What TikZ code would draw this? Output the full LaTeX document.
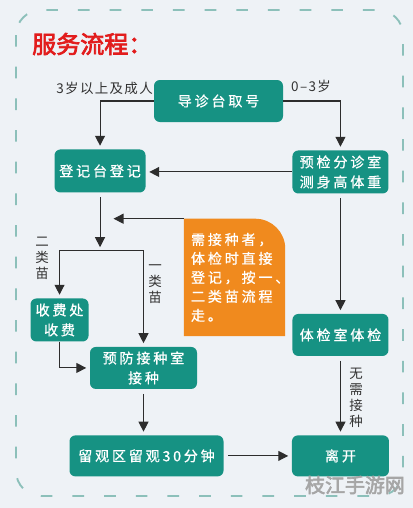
\documentclass[tikz,border=0pt]{standalone}
\usepackage{fontspec}
\setmainfont{Noto Sans CJK SC}[AutoFakeBold=3]
\newfontfamily\spacedfont{Noto Sans CJK SC}[LetterSpace=20, FakeBold=0.8]
\newfontfamily\tagfont{Noto Sans CJK SC}[LetterSpace=10]
\usepackage{xcolor}
\usepackage{tikz}
\usetikzlibrary{positioning, calc, arrows.meta, backgrounds}

\definecolor{boxteal}{RGB}{22,146,131}
\definecolor{noteorange}{RGB}{240,138,30}
\definecolor{pagebg}{RGB}{238,242,246}
\definecolor{framegreen}{RGB}{140,192,186}
\definecolor{titlered}{RGB}{226,28,28}
\definecolor{linegray}{RGB}{45,45,45}
\definecolor{taggray}{RGB}{50,50,50}

\begin{document}
\begin{tikzpicture}[node distance=0.8cm, >={Triangle[length=8.5pt,width=8.5pt]}]
        \tikzstyle{stage} = [rectangle, rounded corners=5pt, text centered, align=center, fill=boxteal, text=white, inner sep=0pt, font=\fontsize{12}{17}\spacedfont]
        \tikzstyle{notebox} = [rectangle, text=white, align=left, text width=2.61cm, inner xsep=0.21cm, inner ysep=0pt, font=\fontsize{12}{16.2}\spacedfont]
        \tikzstyle{tag} = [text=taggray, align=center, inner sep=0pt, font=\fontsize{11.5}{13.6}\tagfont]
        \tikzstyle{arrow} = [draw=linegray, line width=0.9pt, ->, shorten >=3pt]
        \tikzstyle{gap} = [shorten <=4pt]

        \useasboundingbox (0,0) rectangle (12.39,-15.24);
        \begin{scope}[on background layer]
            \fill[pagebg] (0,0) rectangle (12.39,-15.24);
            \draw[framegreen, line width=1.6pt, dash pattern=on 0.35cm off 0.6cm, rounded corners=0.75cm] (0.48,-0.3) rectangle (12.09,-14.88);
        \end{scope}

        % Title
        \node (title) [anchor=west, inner sep=0pt, text=titlered, font=\fontsize{20.5}{24}\selectfont\bfseries] at (0.96,-1.32) {服务流程：};

        % Stages
        \node (guide) [stage, minimum width=3.87cm, minimum height=1.26cm] at (6.555,-3.03) {导诊台取号};
        \node (reg) [stage, minimum width=2.73cm, minimum height=1.29cm, below left=0.81cm and 0.24cm of guide] {登记台登记};
        \node (pre) [stage, minimum width=2.88cm, minimum height=1.29cm, below right=0.84cm and 0.27cm of guide] {预检分诊室\\测身高体重};
        \node (exam) [stage, minimum width=2.88cm, minimum height=1.26cm, below=3.6cm of pre] {体检室体检};
        \node (leave) [stage, minimum width=2.91cm, minimum height=1.23cm, below=2.37cm of exam] {离开};
        \node (obs) [stage, minimum width=4.62cm, minimum height=1.23cm, left=2.04cm of leave] {留观区留观30分钟};
        \node (vacc) [stage, minimum width=3.21cm, minimum height=1.26cm, above=1.38cm of obs, xshift=-0.09cm] {预防接种室\\接种};
        \node (fee) [stage, minimum width=1.74cm, minimum height=1.29cm, above left=0.15cm and 0.03cm of vacc] {收费处\\收费};

        % Note
        \node (note) [notebox, minimum height=3.51cm, below right=0.78cm and 1.14cm of reg] {需接种者，\\体检时直接\\登记，按一、\\二类苗流程\\走。};
        \begin{scope}[on background layer]
            \fill[noteorange] (note.south west) -- (note.north west) -- ($(note.north east)+(-0.9,0)$) arc[start angle=90, end angle=0, radius=0.9cm] -- (note.south east) -- cycle;
        \end{scope}

        % Labels
        \node (adult) [tag, anchor=east] at (4.59,-2.64) {3岁以上及成人};
        \node (infant) [tag, anchor=west] at (8.73,-2.58) {0–3岁};
        \node (second) [tag] at (1.26,-7.74) {二\\类\\苗};
        \node (first) [tag] at (4.65,-8.52) {一\\类\\苗};
        \node (noneed) [tag] at (10.68,-11.94) {无\\需\\接\\种};

        % Watermark
        \node (mark) [inner sep=0pt, text=black!35, font=\fontsize{17}{20}\selectfont\bfseries] at (10.65,-14.55) {枝江手游网};

        % Arrows
        \coordinate (split) at ($(reg.south)+(0,-1.74)$);
        \coordinate (hit) at ($(reg.south |- note.north west)+(0.3,0)$);
        \draw [arrow] (guide.west) -| (reg.north);
        \draw [arrow] (guide.east) -| (pre.north);
        \draw [arrow] (pre.west) -- (pre.west -| reg.east);
        \draw [arrow, gap] (reg.south) -- (split);
        \draw [arrow] (split) -| (fee.north);
        \draw [arrow] (split) -| (vacc.north);
        \draw [arrow] (note.north west) -- (hit);
        \draw [arrow] (fee.south) |- (vacc.west);
        \draw [arrow, gap] (vacc.south) -- (vacc.south |- obs.north);
        \draw [arrow, gap] (obs) -- (leave);
        \draw [arrow, gap] (pre) -- (exam);
        \draw [arrow, gap] (exam) -- (leave);
\end{tikzpicture}
\end{document}
